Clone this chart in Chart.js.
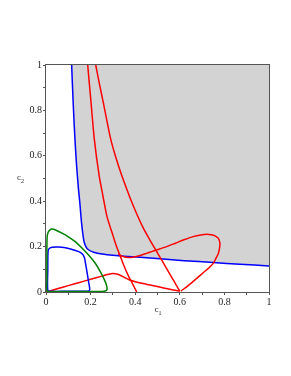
<!DOCTYPE html>
<html>
<head>
<meta charset="utf-8">
<script src="https://cdn.jsdelivr.net/npm/chart.js@4.4.1/dist/chart.umd.min.js"></script>
<style>
  html, body { margin: 0; padding: 0; background: #fff; }
</style>
</head>
<body>
<canvas id="plot" width="291" height="376"></canvas>
<script>
/* curves, c1 on x, c2 on y */

const tickLabels = [0, 0.2, 0.4, 0.6, 0.8, 1];

// blue boundary of the shaded region
const blueX = [0.115, 0.122, 0.130, 0.137, 0.145, 0.152, 0.157, 0.161, 0.166, 0.171, 0.180, 0.192, 0.206, 0.230, 0.260, 0.300, 0.350, 0.422, 0.511, 0.620, 0.750, 0.870, 1.000];
const blueY = [1.000, 0.830, 0.670, 0.560, 0.460, 0.390, 0.330, 0.290, 0.250, 0.220, 0.198, 0.185, 0.178, 0.171, 0.166, 0.162, 0.158, 0.153, 0.146, 0.138, 0.130, 0.122, 0.115];

// small blue closed curve near the origin
const blueLoopX = [0.188, 0.100, 0.020, 0.008, 0.008, 0.009, 0.013, 0.027, 0.057, 0.102, 0.147, 0.163, 0.172, 0.176, 0.181, 0.186, 0.191, 0.195, 0.196, 0.193, 0.188];
const blueLoopY = [0.003, 0.003, 0.003, 0.006, 0.100, 0.175, 0.190, 0.197, 0.198, 0.192, 0.178, 0.167, 0.152, 0.133, 0.105, 0.075, 0.045, 0.022, 0.010, 0.005, 0.003];

// green closed curve
const greenX = [0.255, 0.150, 0.050, 0.005, 0.004, 0.004, 0.005, 0.010, 0.018, 0.027, 0.045, 0.072, 0.100, 0.131, 0.160, 0.191, 0.220, 0.244, 0.260, 0.270, 0.274, 0.272, 0.266, 0.255];
const greenY = [0.003, 0.002, 0.002, 0.004, 0.050, 0.150, 0.240, 0.264, 0.274, 0.277, 0.272, 0.259, 0.243, 0.222, 0.195, 0.163, 0.128, 0.089, 0.058, 0.034, 0.016, 0.008, 0.004, 0.003];

// red curves
const red1X = [0.187, 0.202, 0.217, 0.238, 0.256, 0.272, 0.284, 0.296, 0.307, 0.318, 0.333, 0.352, 0.369, 0.384, 0.396, 0.407];
const red1Y = [1.000, 0.834, 0.670, 0.515, 0.420, 0.339, 0.298, 0.262, 0.228, 0.196, 0.158, 0.110, 0.072, 0.044, 0.021, 0.000];

const red2X = [0.223, 0.240, 0.257, 0.273, 0.291, 0.314, 0.339, 0.375, 0.409, 0.437, 0.466, 0.496, 0.519, 0.545, 0.572, 0.600];
const red2Y = [1.000, 0.915, 0.834, 0.755, 0.670, 0.590, 0.515, 0.420, 0.339, 0.280, 0.229, 0.179, 0.140, 0.096, 0.051, 0.004];

const redLoopX = [0.324, 0.340, 0.360, 0.380, 0.400, 0.430, 0.450, 0.474, 0.496, 0.541, 0.580, 0.616, 0.660, 0.700, 0.720, 0.742, 0.758, 0.773, 0.780, 0.778, 0.773, 0.762, 0.750, 0.730, 0.706, 0.676, 0.640, 0.605];
const redLoopY = [0.168, 0.158, 0.153, 0.152, 0.155, 0.163, 0.170, 0.178, 0.185, 0.200, 0.215, 0.229, 0.244, 0.252, 0.254, 0.252, 0.247, 0.236, 0.214, 0.192, 0.170, 0.148, 0.126, 0.106, 0.086, 0.060, 0.030, 0.004];

const redLowX = [0.000, 0.050, 0.100, 0.150, 0.200, 0.250, 0.281, 0.300, 0.318, 0.333, 0.350, 0.375, 0.405, 0.435, 0.466, 0.500, 0.540, 0.570, 0.600];
const redLowY = [0.000, 0.014, 0.028, 0.042, 0.056, 0.070, 0.078, 0.081, 0.079, 0.074, 0.065, 0.053, 0.044, 0.037, 0.031, 0.024, 0.015, 0.009, 0.004];

const RED = '#ff0000';
const BLUE = '#0000ff';
const GREEN = '#008000';
const AXIS = '#555555';

function pts(xs, ys) {
  return xs.map((x, i) => ({ x: x, y: ys[i] }));
}

function curve(xs, ys, color, extra) {
  return Object.assign({
    data: pts(xs, ys),
    showLine: true,
    borderColor: color,
    borderWidth: 1.5,
    pointRadius: 0,
    tension: 0.3,
    fill: false,
  }, extra || {});
}

// box round the plot area and the c1 / c2 labels
const frame = {
  id: 'frame',
  afterDraw(chart) {
    const { ctx, chartArea: a } = chart;
    ctx.save();
    ctx.strokeStyle = AXIS;
    ctx.lineWidth = 1;
    ctx.strokeRect(a.left - 0.5, a.top - 0.5, a.right - a.left + 1, a.bottom - a.top + 1);

    ctx.fillStyle = '#222';
    ctx.textBaseline = 'alphabetic';
    ctx.textAlign = 'left';
    const midX = (a.left + a.right) / 2;
    const midY = chart.scales.y.getPixelForValue(0.5);
    ctx.font = '9px "Liberation Serif"';
    ctx.fillText('c', midX - 3, a.bottom + 20);
    ctx.fillText('c', 17, midY + 1);
    ctx.font = '6px "Liberation Serif"';
    ctx.fillText('1', midX + 1, a.bottom + 23);
    ctx.fillText('2', 21, midY + 4);
    ctx.restore();
  },
};

const tickOpts = {
  color: '#222',
  font: { family: 'Liberation Serif', size: 10 },
  autoSkip: false,
  maxRotation: 0,
  stepSize: 0.1,
  callback: (v) => {
    const t = Math.round(v * 10) / 10;
    return tickLabels.includes(t) ? String(t) : '';
  },
};

new Chart(document.getElementById('plot'), {
  type: 'scatter',
  data: {
    datasets: [
      curve(greenX, greenY, GREEN),
      curve(blueLoopX, blueLoopY, BLUE),
      curve(redLowX, redLowY, RED),
      curve(redLoopX, redLoopY, RED),
      curve(red2X, red2Y, RED),
      curve(red1X, red1Y, RED),
      curve(blueX, blueY, BLUE, { fill: 'end', backgroundColor: '#d3d3d3' }),
    ],
  },
  options: {
    responsive: false,
    animation: false,
    devicePixelRatio: 1,
    layout: { padding: { top: 65, right: 22, left: 0, bottom: 0 } },
    plugins: {
      legend: { display: false },
      tooltip: { enabled: false },
      filler: { drawTime: 'beforeDatasetsDraw' },
    },
    scales: {
      x: {
        type: 'linear', min: 0, max: 1,
        border: { display: false },
        grid: { drawOnChartArea: false, color: AXIS, tickLength: 3 },
        ticks: Object.assign({ padding: 1 }, tickOpts),
        afterFit: (s) => { s.height = 84; },
      },
      y: {
        type: 'linear', min: 0, max: 1,
        border: { display: false },
        grid: { drawOnChartArea: false, color: AXIS, tickLength: 3 },
        ticks: Object.assign({ padding: 1 }, tickOpts),
        afterFit: (s) => { s.width = 46; },
      },
    },
  },
  plugins: [frame],
});
</script>
</body>
</html>
